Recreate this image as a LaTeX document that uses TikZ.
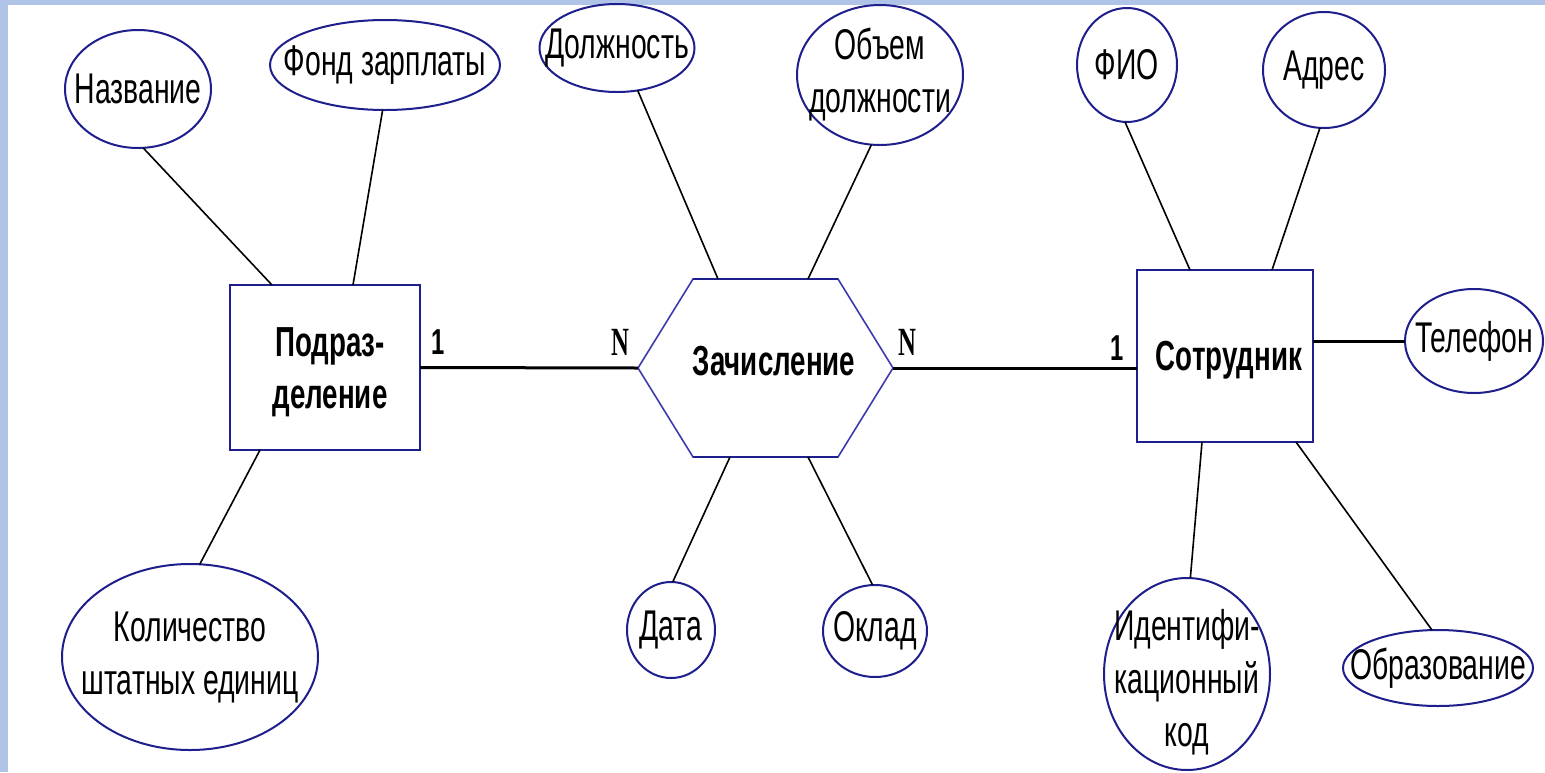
\documentclass[tikz,border=0pt]{standalone}
\usepackage{fontspec}
\setmainfont[FakeStretch=0.66]{Liberation Sans}
\newfontfamily\nfont[FakeStretch=0.62]{Liberation Serif}
\usetikzlibrary{calc,shapes.geometric}
\definecolor{erblue}{RGB}{30,30,140}
\definecolor{hexblue}{RGB}{60,60,170}
\definecolor{bgblue}{RGB}{176,196,232}
\tikzset{
  attr/.style={ellipse, draw=erblue, line width=2pt, inner sep=0pt, outer sep=0pt},
  atxt/.style={font=\fontsize{43}{53}\selectfont, align=center, inner sep=0pt},
  ent/.style={rectangle, draw=erblue, line width=2.6pt, inner sep=0pt, outer sep=0pt},
  etxt/.style={font=\fontsize{42}{52}\selectfont\bfseries, align=center, inner sep=0pt},
  conn/.style={line width=1.6pt, black},
  rel/.style={line width=3pt, black},
  card/.style={font=\fontsize{36}{40}\selectfont\bfseries, inner sep=0pt},
  ncard/.style={font=\nfont\fontsize{40}{40}\selectfont\bfseries, inner sep=0pt}
}
\begin{document}
\begin{tikzpicture}[x=1pt,y=-1pt]
\useasboundingbox (0,0) rectangle (1545,772);
\fill[white] (0,0) rectangle (1545,772);
\fill[bgblue] (0,0) rectangle (8,772);
\fill[bgblue] (0,0) rectangle (1545,5);

% entities
\node[ent, minimum width=190pt, minimum height=165pt] (podr) at (325,367.5) {};
\node[etxt] (podrt) at (330,372) {Подраз-\\деление};
\node[ent, minimum width=176pt, minimum height=172pt] (sotr) at (1225,356) {};
\node[etxt] (sotrt) at (1229,360) {Сотрудник};

% relationship hexagon
\node[minimum width=255pt, minimum height=178pt, inner sep=0pt, outer sep=0pt] (zach) at (765.5,368) {};
\draw[hexblue, line width=1.6pt] (zach.west) -- ($(zach.north west)+(55,0)$) -- ($(zach.north east)+(-55,0)$)
  -- (zach.east) -- ($(zach.south east)+(-55,0)$) -- ($(zach.south west)+(55,0)$) -- cycle;
\draw[erblue, line width=2.6pt] ($(zach.north west)+(55,0)$) -- ($(zach.north east)+(-55,0)$);
\draw[erblue, line width=2.6pt] ($(zach.south west)+(55,0)$) -- ($(zach.south east)+(-55,0)$);
\node[etxt] (zacht) at (774,361) {Зачисление};

% attributes
\node[attr, minimum width=146pt, minimum height=118pt] (nazv) at (138,89) {};
\node[atxt] at (nazv) {Название};
\node[attr, minimum width=230pt, minimum height=90pt] (fond) at (385,65) {};
\node[atxt] at (fond) {Фонд зарплаты};
\node[attr, minimum width=256pt, minimum height=186pt] (kol) at (190,657) {};
\node[atxt] at (kol) {Количество\\штатных единиц};
\node[attr, minimum width=155pt, minimum height=88pt] (dolzh) at (617,48) {};
\node[atxt] at (dolzh) {Должность};
\node[attr, minimum width=166pt, minimum height=140pt] (obem) at (880,75) {};
\node[atxt] at (obem) {Объем\\должности};
\node[attr, minimum width=88pt, minimum height=96pt] (data) at (671,630) {};
\node[atxt] at (data) {Дата};
\node[attr, minimum width=104pt, minimum height=92pt] (oklad) at (875,631) {};
\node[atxt] at (oklad) {Оклад};
\node[attr, minimum width=100pt, minimum height=114pt] (fio) at (1127,65) {};
\node[atxt] at (fio) {ФИО};
\node[attr, minimum width=122pt, minimum height=116pt] (adres) at (1324,70) {};
\node[atxt] at (adres) {Адрес};
\node[attr, minimum width=138pt, minimum height=104pt] (tel) at (1474,341) {};
\node[atxt] at (tel) {Телефон};
\node[attr, minimum width=166pt, minimum height=192pt] (ident) at (1187,674) {};
\node[atxt] at ($(ident)+(0,8)$) {Идентифи-\\кационный\\код};
\node[attr, minimum width=190pt, minimum height=76pt] (obraz) at (1438,668) {};
\node[atxt] at (obraz) {Образование};

% connectors
\draw[conn] (nazv.-85) -- ($(podr.north west)+(42,0)$);
\draw[conn] (fond.-93) -- ($(podr.north west)+(123,0)$);
\draw[conn] ($(podr.south west)+(30,0)$) -- (kol.84);
\draw[conn] (dolzh.-64) -- ($(zach.north west)+(80,0)$);
\draw[conn] (obem.-97) -- ($(zach.north west)+(170,0)$);
\draw[conn] ($(zach.south west)+(92,0)$) -- (data.88);
\draw[conn] ($(zach.south west)+(170,0)$) -- (oklad.93);
\draw[conn] (fio.-92) -- ($(sotr.north west)+(53,0)$);
\draw[conn] (adres.-94) -- ($(sotr.north west)+(135,0)$);
\draw[rel] (tel.west) -- (tel.west -| sotr.east);
\draw[conn] ($(sotr.south west)+(65,0)$) -- (ident.88);
\draw[conn] ($(sotr.south west)+(159,0)$) -- (obraz.99);

% relationships
\draw[rel] (podr.east) -- (zach.west);
\draw[rel] (zach.east) -- (zach.east -| sotr.west);

% cardinalities
\node[card] (c1) at (438,342) {1};
\node[ncard] (c2) at (620,342) {N};
\node[ncard] (c3) at (907,342) {N};
\node[card] (c4) at (1117,348) {1};
\end{tikzpicture}
\end{document}
